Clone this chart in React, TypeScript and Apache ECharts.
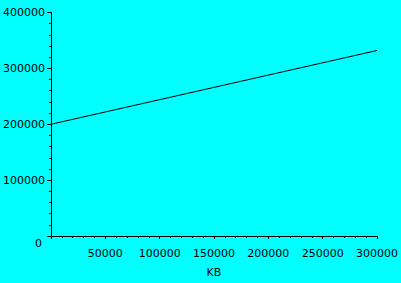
import React, { useEffect, useRef } from "react";
import * as echarts from "echarts";

const sizesKB = [0, 300000];
const values = [200000, 332000];
const xTicks = [0, 50000, 100000, 150000, 200000, 250000, 300000];
const yTicks = [0, 100000, 200000, 300000, 400000];
const xName = "KB";

export default function App() {
  const ref = useRef<HTMLDivElement>(null);
  useEffect(() => {
    const chart = echarts.init(ref.current!, null, { renderer: "svg" });
    const font = { fontFamily: "DejaVu Sans", fontSize: 11, color: "#000" };
    chart.setOption({
      animation: false,
      backgroundColor: "#00FFFF",
      grid: { left: 50, right: 23, top: 12.5, bottom: 41, containLabel: false },
      xAxis: {
        type: "value",
        min: xTicks[0],
        max: xTicks[xTicks.length - 1],
        interval: 50000,
        name: xName,
        nameLocation: "middle",
        nameGap: 31,
        nameTextStyle: { ...font },
        axisLine: { show: true, onZero: false, lineStyle: { color: "#000", width: 1 } },
        axisTick: { show: true, length: 3, lineStyle: { color: "#000" } },
        minorTick: { show: true, splitNumber: 5, length: 2, lineStyle: { color: "#000" } },
        splitLine: { show: false },
        axisLabel: { ...font, margin: 12, showMinLabel: false, formatter: (v: number) => String(v) },
      },
      yAxis: {
        type: "value",
        min: yTicks[0],
        max: yTicks[yTicks.length - 1],
        interval: 100000,
        axisLine: { show: true, onZero: false, lineStyle: { color: "#000", width: 1 } },
        axisTick: { show: true, length: 4, lineStyle: { color: "#000" } },
        minorTick: { show: true, splitNumber: 5, length: 2, lineStyle: { color: "#000" } },
        splitLine: { show: false },
        axisLabel: {
          ...font,
          margin: 6,
          formatter: (v: number) => (v === 0 ? "{z|0}" : String(v)),
          rich: { z: { ...font, padding: [14, 3, 0, 0] } },
        },
      },
      series: [
        {
          type: "line",
          data: sizesKB.map((x, i) => [x, values[i]]),
          showSymbol: false,
          lineStyle: { color: "#000", width: 1 },
        },
      ],
    });
    return () => chart.dispose();
  }, []);
  return (
    <div
      ref={ref}
      style={{ position: "fixed", left: 0, top: 0, width: 401, height: 283 }}
    />
  );
}
